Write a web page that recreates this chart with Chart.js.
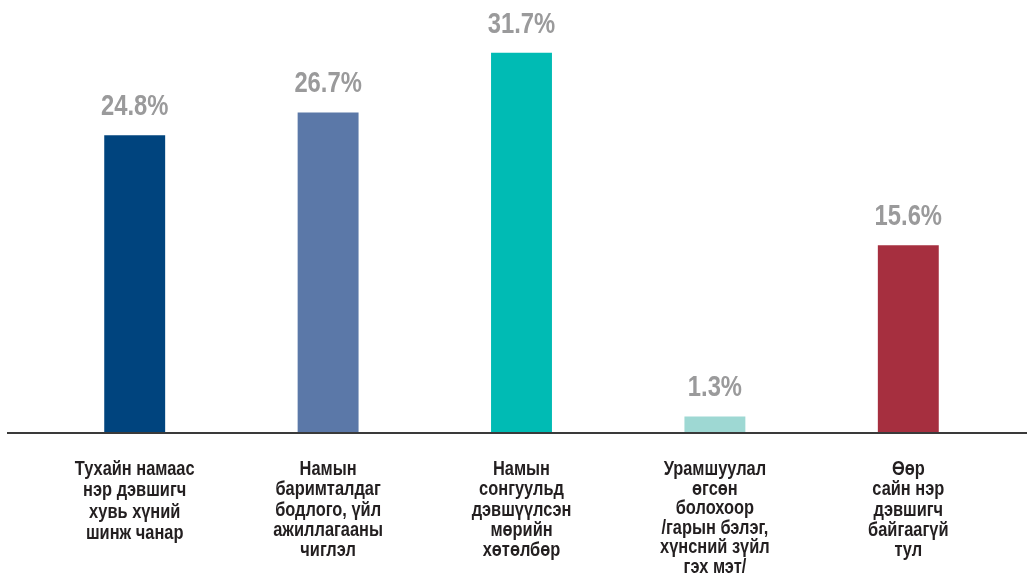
<!DOCTYPE html>
<html>
<head>
<meta charset="utf-8">
<script src="https://cdn.jsdelivr.net/npm/chart.js@4/dist/chart.umd.min.js"></script>
<style>
html,body{margin:0;padding:0;background:#fff;}
#wrap{position:relative;width:1027px;height:578px;}
</style>
</head>
<body>
<div id="wrap"><canvas id="c" width="1027" height="578"></canvas></div>
<script>
const categories = [
  ["Тухайн намаас", "нэр дэвшигч", "хувь хүний", "шинж чанар"],
  ["Намын", "баримталдаг", "бодлого, үйл", "ажиллагааны", "чиглэл"],
  ["Намын", "сонгуульд", "дэвшүүлсэн", "мөрийн", "хөтөлбөр"],
  ["Урамшуулал", "өгсөн", "болохоор", "/гарын бэлэг,", "хүнсний зүйл", "гэх мэт/"],
  ["Өөр", "сайн нэр", "дэвшигч", "байгаагүй", "тул"]
];
const values = [24.8, 26.7, 31.7, 1.3, 15.6];
const valueLabels = ["24.8%", "26.7%", "31.7%", "1.3%", "15.6%"];
const barColors = ["#00447e", "#5b78a8", "#00bbb4", "#9ed8d3", "#a62f3f"];

const FONT = "'Liberation Sans', Arial, sans-serif";
const NARROW = 0.82;

function drawNarrow(ctx, text, x, y) {
  ctx.save();
  ctx.translate(x, y);
  ctx.scale(NARROW, 1);
  ctx.fillText(text, 0, 0);
  ctx.restore();
}

const valueLabelPlugin = {
  id: 'valueLabels',
  afterDatasetsDraw(chart) {
    const ctx = chart.ctx;
    const meta = chart.getDatasetMeta(0);
    ctx.save();
    ctx.font = "bold 29px " + FONT;
    ctx.fillStyle = "#9a9a9b";
    ctx.textAlign = "center";
    ctx.textBaseline = "alphabetic";
    meta.data.forEach((bar, i) => {
      drawNarrow(ctx, valueLabels[i], bar.x, bar.y - 20);
    });
    ctx.restore();
  }
};

const categoryLabelPlugin = {
  id: 'categoryLabels',
  afterDraw(chart) {
    const ctx = chart.ctx;
    const xs = chart.scales.x;
    const top = chart.scales.y.getPixelForValue(0);
    ctx.save();
    ctx.font = "bold 20px " + FONT;
    ctx.fillStyle = "#231f20";
    ctx.textAlign = "center";
    ctx.textBaseline = "alphabetic";
    categories.forEach((lines, i) => {
      const x = xs.getPixelForTick(i);
      const lh = lines.length > 5 ? 19.5 : (lines.length < 5 ? 21.3 : 20.3);
      lines.forEach((ln, j) => {
        drawNarrow(ctx, ln, x, top + 43 + j * lh);
      });
    });
    ctx.restore();
  }
};

const axisLinePlugin = {
  id: 'axisLine',
  afterDatasetsDraw(chart) {
    const ctx = chart.ctx;
    const y = chart.scales.y.getPixelForValue(0);
    ctx.save();
    ctx.strokeStyle = "#3a3a3a";
    ctx.lineWidth = 2;
    ctx.beginPath();
    ctx.moveTo(7, y + 1);
    ctx.lineTo(chart.width, y + 1);
    ctx.stroke();
    ctx.restore();
  }
};

new Chart(document.getElementById('c'), {
  type: 'bar',
  data: {
    labels: categories,
    datasets: [{
      data: values,
      backgroundColor: barColors,
      borderWidth: 0,
      barPercentage: 1,
      categoryPercentage: 0.315
    }]
  },
  options: {
    responsive: false,
    animation: false,
    layout: { padding: { left: 38, right: 22, top: 0, bottom: 0 } },
    plugins: { legend: { display: false }, tooltip: { enabled: false } },
    scales: {
      y: { display: false, min: 0, max: 36.1 },
      x: {
        grid: { display: false, drawTicks: false },
        border: { display: false },
        afterFit(scale) { scale.height = 146; },
        ticks: { display: false }
      }
    }
  },
  plugins: [valueLabelPlugin, axisLinePlugin, categoryLabelPlugin]
});
</script>
</body>
</html>
